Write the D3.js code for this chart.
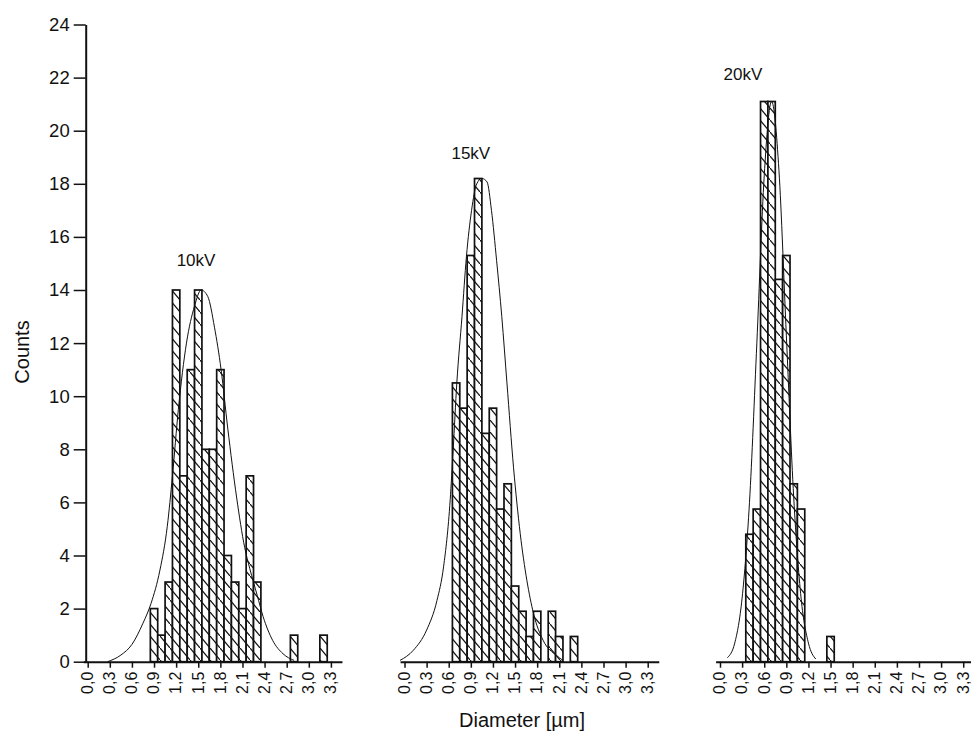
<!DOCTYPE html>
<html>
<head>
<meta charset="utf-8">
<script src="https://cdn.jsdelivr.net/npm/d3@7"></script>
<style>
  html, body { margin: 0; padding: 0; background: #fff; }
  svg { display: block; font-family: "Liberation Sans", Arial, sans-serif; }
</style>
</head>
<body>
<svg id="chart" width="971" height="739"></svg>
<script>
// ---- data ----
const panelNames = ["10kV", "15kV", "20kV"];

const bins10 = [0.9, 1.0, 1.1, 1.2, 1.3, 1.4, 1.5, 1.6, 1.7, 1.8, 1.9, 2.0, 2.1, 2.2, 2.3, 2.8, 3.2];
const counts10 = [2, 1, 3, 14, 7, 11, 14, 8, 8, 11, 4, 3, 2, 7, 3, 1, 1];

const bins15 = [0.7, 0.8, 0.9, 1.0, 1.1, 1.2, 1.3, 1.4, 1.5, 1.6, 1.7, 1.8, 1.9, 2.0, 2.1, 2.2, 2.3];
const counts15 = [10.5, 9.55, 15.3, 18.2, 8.6, 9.55, 5.75, 6.7, 2.85, 1.9, 0.95, 1.9, 0, 1.9, 0.95, 0, 0.95];

const bins20 = [0.4, 0.5, 0.6, 0.7, 0.8, 0.9, 1.0, 1.1, 1.5];
const counts20 = [4.8, 5.75, 21.1, 21.1, 14.4, 15.3, 6.7, 5.75, 0.95];

// fitted curves, points
const fit10X = [0.27, 0.45, 0.6, 0.75, 0.86, 0.98, 1.08, 1.15, 1.23, 1.34, 1.45, 1.54, 1.63, 1.72, 1.81, 1.9, 2.02, 2.13, 2.2, 2.3, 2.38, 2.51, 2.65, 2.8];
const fit10Y = [0.0, 0.25, 0.65, 1.45, 2.2, 3.45, 5.1, 7.0, 9.5, 12.0, 13.4, 14.0, 13.75, 12.6, 11.0, 8.8, 6.2, 4.3, 3.5, 2.5, 1.7, 0.8, 0.3, 0.05];

const fit15X = [-0.06, 0.12, 0.3, 0.44, 0.53, 0.62, 0.66, 0.71, 0.78, 0.84, 0.91, 0.98, 1.05, 1.12, 1.18, 1.25, 1.32, 1.39, 1.48, 1.57, 1.66, 1.75, 1.88, 2.06, 2.15];
const fit15Y = [0.05, 0.43, 1.19, 2.3, 3.57, 6.1, 7.97, 10.5, 13.0, 15.25, 17.0, 18.0, 18.2, 18.07, 17.0, 15.1, 13.0, 10.5, 7.3, 4.83, 3.07, 1.82, 0.81, 0.24, 0.05];

const fit20X = [0.1, 0.2, 0.3, 0.4, 0.5, 0.6, 0.7, 0.8, 0.9, 1.0, 1.1, 1.2, 1.3];
const fit20Y = [0.15, 0.7, 2.4, 6.0, 12.0, 18.3, 21.1, 18.5, 12.3, 6.2, 2.4, 0.7, 0.1];

const xTickValues = [0.0, 0.3, 0.6, 0.9, 1.2, 1.5, 1.8, 2.1, 2.4, 2.7, 3.0, 3.3];
const xTickLabels = ["0,0", "0,3", "0,6", "0,9", "1,2", "1,5", "1,8", "2,1", "2,4", "2,7", "3,0", "3,3"];
const yTickValues = [0, 2, 4, 6, 8, 10, 12, 14, 16, 18, 20, 22, 24];

const yTitle = "Counts";
const xTitle = "Diameter [µm]";

// ---- layout ----
const svg = d3.select("#chart");
const binWidth = 0.1;
const panelOrigins = [87.7, 404.5, 720.0];   // pixel of x = 0 for each panel
const pxPerUnit = 73.7;
const xDomain = [-0.06, 3.45];
const baseY = 661.7, topY = 24.5;

const y = d3.scaleLinear().domain([0, 24]).range([baseY, topY]);

// hatch pattern
const defs = svg.append("defs");
const pat = defs.append("pattern")
  .attr("id", "hatch").attr("patternUnits", "userSpaceOnUse")
  .attr("width", 10).attr("height", 12);
pat.append("rect").attr("width", 10).attr("height", 12).attr("fill", "#fff");
pat.append("line").attr("x1", -1).attr("y1", -1.2).attr("x2", 11).attr("y2", 13.2)
  .attr("stroke", "#111").attr("stroke-width", 1.2);

const panels = [
  { name: panelNames[0], bins: bins10, counts: counts10, fx: fit10X, fy: fit10Y, labelX: 1.47, labelY: 14.9 },
  { name: panelNames[1], bins: bins15, counts: counts15, fx: fit15X, fy: fit15Y, labelX: 0.9, labelY: 18.95 },
  { name: panelNames[2], bins: bins20, counts: counts20, fx: fit20X, fy: fit20Y, labelX: 0.31, labelY: 21.9 }
];

panels.forEach((p, i) => {
  const x0 = panelOrigins[i];
  const x = d3.scaleLinear().domain(xDomain)
    .range([x0 + xDomain[0] * pxPerUnit, x0 + xDomain[1] * pxPerUnit]);
  const g = svg.append("g");

  const barData = p.bins.map((b, k) => ({ b, c: p.counts[k] })).filter(d => d.c > 0);
  g.selectAll("rect.bar").data(barData).enter().append("rect")
    .attr("class", "bar")
    .attr("x", d => x(d.b - binWidth / 2))
    .attr("width", d => x(d.b + binWidth / 2) - x(d.b - binWidth / 2))
    .attr("y", d => y(d.c))
    .attr("height", d => y(0) - y(d.c))
    .attr("fill", "url(#hatch)")
    .attr("stroke", "#111")
    .attr("stroke-width", 1.7);

  const pts = p.fx.map((v, k) => [v, p.fy[k]]);
  g.append("path")
    .datum(pts)
    .attr("fill", "none")
    .attr("stroke", "#111")
    .attr("stroke-width", 1)
    .attr("d", d3.line().x(d => x(d[0])).y(d => y(d[1])).curve(d3.curveMonotoneX));

  const ax = g.append("g")
    .attr("transform", `translate(0,${baseY})`)
    .call(d3.axisBottom(x).tickValues(xTickValues).tickFormat((d, k) => xTickLabels[k])
      .tickSize(6).tickSizeOuter(0));
  ax.select(".domain").attr("stroke", "#111").attr("stroke-width", 2);
  ax.selectAll(".tick line").attr("stroke", "#111").attr("stroke-width", 1.5);
  ax.selectAll(".tick text")
    .attr("font-size", 16).attr("fill", "#111")
    .attr("text-anchor", "end")
    .attr("transform", "rotate(-90)")
    .attr("x", -10).attr("y", 0).attr("dy", "0.3em");

  g.append("text")
    .attr("x", x(p.labelX)).attr("y", y(p.labelY))
    .attr("text-anchor", "middle")
    .attr("font-size", 17).attr("fill", "#111")
    .text(p.name);
});

// y axis
const yAx = svg.append("g")
  .attr("transform", "translate(85.7,0)")
  .call(d3.axisLeft(y).tickValues(yTickValues).tickSize(12).tickSizeOuter(0).tickPadding(4));
yAx.select(".domain").attr("stroke", "#111").attr("stroke-width", 2);
yAx.selectAll(".tick line").attr("stroke", "#111").attr("stroke-width", 1.5);
yAx.selectAll(".tick text").attr("font-size", 18.5).attr("fill", "#111");

// titles
svg.append("text")
  .attr("transform", "translate(29,352) rotate(-90)")
  .attr("text-anchor", "middle")
  .attr("font-size", 20).attr("fill", "#111")
  .text(yTitle);

svg.append("text")
  .attr("x", 522).attr("y", 727)
  .attr("text-anchor", "middle")
  .attr("font-size", 20).attr("fill", "#111")
  .text(xTitle);
</script>
</body>
</html>
